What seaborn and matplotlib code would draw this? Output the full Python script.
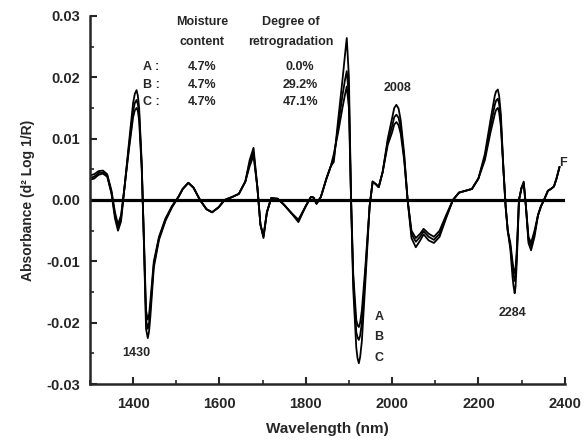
import numpy as np
import pandas as pd
import seaborn as sns
import matplotlib.pyplot as plt
from matplotlib.ticker import MultipleLocator

# wavelength grid (nm) and second-derivative absorbance
wavelength = [1300, 1310, 1320, 1330, 1340, 1350, 1358, 1365, 1372, 1380,
              1390, 1400, 1404, 1408, 1411, 1414, 1420, 1425, 1430, 1434,
              1437, 1440, 1448, 1460, 1475, 1490, 1505, 1515, 1528, 1540,
              1555, 1570, 1583, 1598, 1612, 1630, 1645, 1660, 1670, 1679,
              1688, 1695, 1702, 1710, 1720, 1735, 1750, 1765, 1783, 1800,
              1812, 1818, 1825, 1835, 1848, 1858, 1865, 1875, 1885, 1891,
              1895, 1900, 1905, 1910, 1917, 1920, 1923, 1926, 1930, 1938,
              1948, 1955, 1962, 1969, 1978, 1990, 2000, 2005, 2010, 2015,
              2020, 2028, 2036, 2045, 2055, 2065, 2073, 2085, 2097, 2110,
              2125, 2141, 2155, 2170, 2185, 2200, 2215, 2228, 2238, 2241,
              2245, 2248, 2252, 2258, 2263, 2268, 2274, 2279, 2281, 2284,
              2286, 2289, 2294, 2300, 2305, 2310, 2316, 2322, 2330, 2338,
              2345, 2352, 2361, 2368, 2375, 2381, 2388]

abs_A = [.0040, .0042, .0047, .0048, .0042, .0015, -.0020, -.0040, -.0025, .0020,
         .0080, .0135, .0146, .0150, .0145, .0130, .0050, -.0060, -.0180, -.0195,
         -.0187, -.0165, -.0100, -.0060, -.0030, -.0010, .0005, .0018, .0028, .0020,
         .0000, -.0015, -.0020, -.0012, .0000, .0005, .0010, .0030, .0055, .0072,
         .0020, -.0040, -.0058, -.0020, .0003, .0002, -.0008, -.0020, -.0032, -.0010,
         .0005, .0004, -.0006, .0005, .0035, .0055, .0075, .0110, .0150, .0172,
         .0185, .0150, .0000, -.0120, -.0195, -.0204, -.0207, -.0200, -.0180, -.0110,
         -.0010, .0030, .0026, .0021, .0045, .0090, .0110, .0123, .0127, .0122,
         .0108, .0065, .0000, -.0050, -.0062, -.0055, -.0047, -.0055, -.0060, -.0050,
         -.0025, .0000, .0012, .0015, .0018, .0035, .0065, .0110, .0140, .0147,
         .0150, .0143, .0120, .0050, -.0010, -.0050, -.0070, -.0100, -.0110, -.0120,
         -.0112, -.0080, .0000, .0020, .0030, -.0010, -.0060, -.0070, -.0050, -.0025,
         -.0010, .0000, .0015, .0018, .0022, .0035, .0054]

abs_B = [.0036, .0038, .0044, .0045, .0040, .0012, -.0025, -.0045, -.0030, .0020,
         .0085, .0145, .0158, .0163, .0156, .0140, .0055, -.0065, -.0195, -.0210,
         -.0200, -.0175, -.0105, -.0062, -.0032, -.0011, .0005, .0018, .0028, .0020,
         .0000, -.0015, -.0020, -.0012, .0000, .0005, .0010, .0030, .0060, .0078,
         .0020, -.0040, -.0060, -.0020, .0003, .0002, -.0008, -.0020, -.0034, -.0010,
         .0005, .0004, -.0006, .0005, .0035, .0055, .0068, .0120, .0170, .0196,
         .0210, .0170, .0000, -.0130, -.0215, -.0224, -.0228, -.0221, -.0200, -.0120,
         -.0010, .0030, .0026, .0021, .0045, .0095, .0120, .0135, .0139, .0134,
         .0118, .0070, .0000, -.0055, -.0068, -.0060, -.0051, -.0060, -.0065, -.0055,
         -.0028, .0000, .0012, .0015, .0018, .0035, .0070, .0120, .0155, .0162,
         .0165, .0157, .0130, .0050, -.0010, -.0050, -.0075, -.0110, -.0121, -.0132,
         -.0124, -.0090, .0000, .0020, .0028, -.0010, -.0065, -.0075, -.0055, -.0025,
         -.0010, .0000, .0015, .0018, .0022, .0035, .0054]

abs_C = [.0033, .0035, .0041, .0043, .0038, .0010, -.0030, -.0050, -.0035, .0020,
         .0090, .0158, .0173, .0179, .0170, .0150, .0060, -.0070, -.0210, -.0225,
         -.0214, -.0190, -.0110, -.0065, -.0034, -.0012, .0005, .0018, .0028, .0020,
         .0000, -.0015, -.0020, -.0012, .0000, .0005, .0010, .0030, .0065, .0085,
         .0020, -.0040, -.0062, -.0020, .0003, .0002, -.0008, -.0020, -.0036, -.0010,
         .0005, .0004, -.0006, .0005, .0035, .0055, .0062, .0130, .0195, .0237,
         .0264, .0200, .0000, -.0145, -.0240, -.0258, -.0266, -.0256, -.0230, -.0135,
         -.0010, .0030, .0026, .0021, .0045, .0100, .0133, .0150, .0155, .0149,
         .0130, .0076, .0000, -.0062, -.0077, -.0066, -.0056, -.0066, -.0070, -.0060,
         -.0030, .0000, .0012, .0015, .0018, .0035, .0075, .0130, .0170, .0177,
         .0180, .0170, .0140, .0050, -.0010, -.0050, -.0080, -.0125, -.0138, -.0152,
         -.0142, -.0100, .0000, .0020, .0026, -.0010, -.0070, -.0082, -.0060, -.0025,
         -.0010, .0000, .0015, .0018, .0022, .0035, .0054]

samples = ["A", "B", "C"]
moisture = ["4.7%", "4.7%", "4.7%"]
retro = ["0.0%", "29.2%", "47.1%"]

n = len(wavelength)
df = pd.DataFrame({
    "wavelength": wavelength * 3,
    "absorbance": abs_A + abs_B + abs_C,
    "sample": ["A"] * n + ["B"] * n + ["C"] * n,
})

sns.set_style("ticks")
plt.rcParams["font.family"] = ["Liberation Sans", "DejaVu Sans"]
plt.rcParams["font.weight"] = "bold"

fig = plt.figure(figsize=(5.84, 4.41), dpi=100)
ax = fig.add_axes([0.154, 0.129, 0.813, 0.835])

ax.axhline(0, color="black", lw=2.3, zorder=1)
sns.lineplot(data=df, x="wavelength", y="absorbance", hue="sample",
             palette=["black"] * 3, lw=1.3, legend=False, ax=ax, sort=False)

ax.set_xlim(1300, 2400)
ax.set_ylim(-0.03, 0.03)
ax.xaxis.set_minor_locator(MultipleLocator(100))
ax.yaxis.set_minor_locator(MultipleLocator(0.005))
ax.set_yticks([0.03, 0.02, 0.01, 0.0, -0.01, -0.02, -0.03])
ax.set_yticklabels(["0.03", "0.02", "0.01", "0.00", "-0.01", "-0.02", "-0.03"])
ax.set_xticks([1400, 1600, 1800, 2000, 2200, 2400])
ax.tick_params(which="major", direction="in", length=5, width=1.5, labelsize=10.5)
ax.tick_params(which="minor", direction="in", length=3, width=1.2)
ax.tick_params(axis="x", pad=9)
ax.tick_params(axis="y", pad=7)
for lab in ax.get_xticklabels() + ax.get_yticklabels():
    lab.set_fontweight("bold")
sns.despine(ax=ax)
ax.spines["left"].set_linewidth(1.8)
ax.spines["bottom"].set_linewidth(1.8)

ax.set_xlabel("Wavelength (nm)", fontsize=11, fontweight="bold", labelpad=8)
ax.set_ylabel("Absorbance (d² Log 1/R)", fontsize=10, fontweight="bold", labelpad=8)

# header table
fs = 9
ax.text(1560, 0.0290, "Moisture", ha="center", va="center", fontsize=fs, fontweight="bold")
ax.text(1560, 0.0258, "content", ha="center", va="center", fontsize=fs, fontweight="bold")
ax.text(1765, 0.0290, "Degree of", ha="center", va="center", fontsize=fs, fontweight="bold")
ax.text(1765, 0.0258, "retrogradation", ha="center", va="center", fontsize=fs,
        fontweight="bold")
for i, s in enumerate(samples):
    y = 0.0217 - i * 0.0029
    ax.text(1423, y, s + " :", ha="left", va="center", fontsize=fs, fontweight="bold")
    ax.text(1560, y, moisture[i], ha="center", va="center", fontsize=fs, fontweight="bold")
    ax.text(1787, y, retro[i], ha="center", va="center", fontsize=fs, fontweight="bold")

# peak labels
ax.text(2012, 0.0182, "2008", ha="center", va="center", fontsize=fs, fontweight="bold")
ax.text(1408, -0.0250, "1430", ha="center", va="center", fontsize=fs, fontweight="bold")
ax.text(2278, -0.0184, "2284", ha="center", va="center", fontsize=fs, fontweight="bold")
for i, s in enumerate(samples):
    ax.text(1970, -0.0191 - i * 0.0033, s, ha="center", va="center", fontsize=fs,
            fontweight="bold")
ax.text(2388, 0.0060, "F", ha="left", va="center", fontsize=fs)

fig.savefig("out.png", dpi=100)
